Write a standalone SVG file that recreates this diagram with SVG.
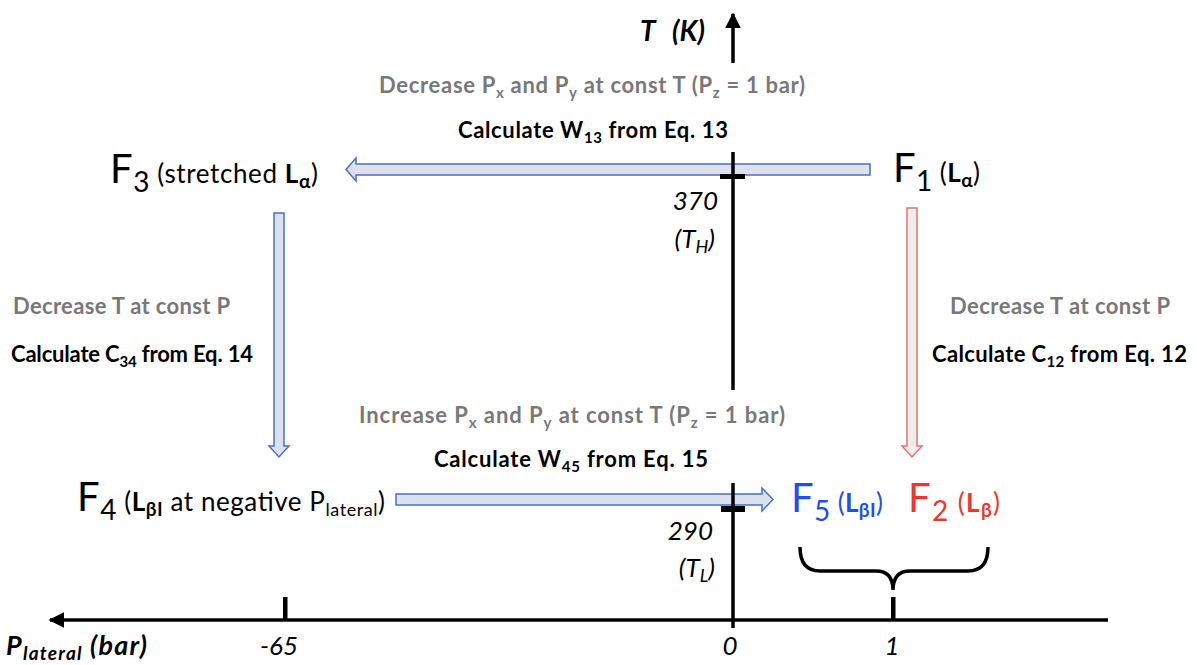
<svg xmlns="http://www.w3.org/2000/svg" width="1197" height="665" viewBox="0 0 1197 665">
<style>
text{font-family:Lato,"Open Sans","Liberation Sans",sans-serif;}
.gray{fill:#787878;font-weight:bold;font-size:22px;}
.blk{fill:#000;font-weight:bold;font-size:22px;}
.node{fill:#000;font-size:26px;}
.big{font-size:40px;}
.sb{font-size:28px;}
.it{font-style:italic;font-size:26px;fill:#000;}
.bi{font-style:italic;font-weight:bold;fill:#000;}
.arrB{fill:#dfe0ee;stroke:#4472c4;stroke-width:1.5;}
.arrR{fill:#ececec;stroke:#e8716c;stroke-width:1.5;}
.ax{stroke:#000;stroke-width:3.5;fill:none;}
</style>
<defs>
<marker id="ah" viewBox="0 0 10 10" refX="9" refY="5" markerWidth="4.5" markerHeight="4.5" orient="auto-start-reverse"><path d="M0,0 L10,5 L0,10 z" fill="#000"/></marker>
</defs>
<rect width="1197" height="665" fill="#fff"/>

<g id="connectors">
<polygon class="arrB" points="870,164 356,164 356,158 346,169.5 356,181 356,175 870,175"/>
<polygon class="arrB" points="274,213 284,213 284,446 289,446 279,457 269,446 274,446"/>
<polygon class="arrR" points="907,208 917,208 917,446 922,446 912,457 902,446 907,446"/>
<polygon class="arrB" points="396,494 762,494 762,488 773,499.5 762,511 762,505 396,505"/>
</g>

<g id="axes">
<line class="ax" x1="733" y1="63" x2="733" y2="14" marker-end="url(#ah)"/>
<line class="ax" x1="733" y1="152" x2="733" y2="390"/>
<line class="ax" x1="733" y1="483" x2="733" y2="628"/>
<line class="ax" x1="1108" y1="620" x2="50" y2="620" marker-end="url(#ah)"/>
<rect x="720" y="174" width="25" height="5" fill="#000"/>
<rect x="721" y="506" width="24" height="6" fill="#000"/>
<rect x="283" y="597" width="4.5" height="23" fill="#000"/>
<rect x="891" y="597" width="4.5" height="23" fill="#000"/>
<path class="ax" d="M800,547 Q800,571 820,571 L876,571 Q893,571 893,590 Q893,571 910,571 L968,571 Q988,571 988,547"/>
<text class="bi" x="640" y="41" font-size="28">T <tspan x="672">(K)</tspan></text>
<text class="bi" x="6" y="655" font-size="27" textLength="141">P<tspan font-size="19" dy="5">lateral</tspan><tspan dy="-5"> (bar)</tspan></text>
<text class="it" x="279" y="655" text-anchor="middle" font-size="27">-65</text>
<text class="it" x="730" y="655" text-anchor="middle" font-size="27">0</text>
<text class="it" x="892" y="655" text-anchor="middle" font-size="27">1</text>
<text class="it" x="718" y="210" text-anchor="end">370</text>
<text class="it" x="715" y="248" text-anchor="end">(T<tspan font-size="18" dy="5">H</tspan><tspan dy="-5">)</tspan></text>
<text class="it" x="713" y="540" text-anchor="end">290</text>
<text class="it" x="715" y="577" text-anchor="end">(T<tspan font-size="18" dy="5">L</tspan><tspan dy="-5">)</tspan></text>
</g>

<g id="labels">
<text class="gray" x="379" y="93" textLength="426">Decrease P<tspan font-size="15" dy="5">x</tspan><tspan dy="-5"> and P</tspan><tspan font-size="15" dy="5">y</tspan><tspan dy="-5"> at const T (P</tspan><tspan font-size="15" dy="5">z</tspan><tspan dy="-5"> = 1 bar)</tspan></text>
<text class="blk" x="458" y="138" textLength="270">Calculate W<tspan font-size="15" dy="5">13</tspan><tspan dy="-5"> from Eq. 13</tspan></text>
<text class="gray" x="13" y="314" textLength="217">Decrease T at const P</text>
<text class="blk" x="11" y="362" textLength="242">Calculate C<tspan font-size="15" dy="5">34</tspan><tspan dy="-5"> from Eq. 14</tspan></text>
<text class="gray" x="950" y="314" textLength="220">Decrease T at const P</text>
<text class="blk" x="932" y="362" textLength="255">Calculate C<tspan font-size="15" dy="5">12</tspan><tspan dy="-5"> from Eq. 12</tspan></text>
<text class="gray" x="359" y="423" textLength="426">Increase P<tspan font-size="15" dy="5">x</tspan><tspan dy="-5"> and P</tspan><tspan font-size="15" dy="5">y</tspan><tspan dy="-5"> at const T (P</tspan><tspan font-size="15" dy="5">z</tspan><tspan dy="-5"> = 1 bar)</tspan></text>
<text class="blk" x="434" y="467" textLength="274">Calculate W<tspan font-size="15" dy="5">45</tspan><tspan dy="-5"> from Eq. 15</tspan></text>
</g>

<g id="F3">
<text class="node" x="110" y="183" textLength="208"><tspan class="big">F</tspan><tspan class="sb" dy="9">3</tspan><tspan dy="-9"> (stretched </tspan><tspan font-weight="bold">L</tspan><tspan font-weight="bold" font-size="19" dy="5">α</tspan><tspan dy="-5">)</tspan></text>
</g>
<g id="F1">
<text class="node" x="893" y="182" textLength="87"><tspan class="big">F</tspan><tspan class="sb" dy="9">1</tspan><tspan dy="-9"> (</tspan><tspan font-weight="bold">L</tspan><tspan font-weight="bold" font-size="19" dy="5">α</tspan><tspan dy="-5">)</tspan></text>
</g>
<g id="F4">
<text class="node" x="77" y="511" textLength="308"><tspan class="big">F</tspan><tspan class="sb" dy="9">4</tspan><tspan dy="-9"> (</tspan><tspan font-weight="bold">L</tspan><tspan font-weight="bold" font-size="19" dy="5">βI</tspan><tspan dy="-5"> at negative P</tspan><tspan font-size="18" dy="5">lateral</tspan><tspan dy="-5">)</tspan></text>
</g>
<g id="F5">
<text class="node" x="791" y="512" style="fill:#1f4ef0" textLength="92"><tspan class="big">F</tspan><tspan class="sb" dy="9">5</tspan><tspan dy="-9"> (</tspan><tspan font-weight="bold">L</tspan><tspan font-weight="bold" font-size="19" dy="5">βI</tspan><tspan dy="-5">)</tspan></text>
</g>
<g id="F2">
<text class="node" x="908" y="512" style="fill:#f0362b" textLength="92"><tspan class="big">F</tspan><tspan class="sb" dy="9">2</tspan><tspan dy="-9"> (</tspan><tspan font-weight="bold">L</tspan><tspan font-weight="bold" font-size="19" dy="5">β</tspan><tspan dy="-5">)</tspan></text>
</g>
</svg>
